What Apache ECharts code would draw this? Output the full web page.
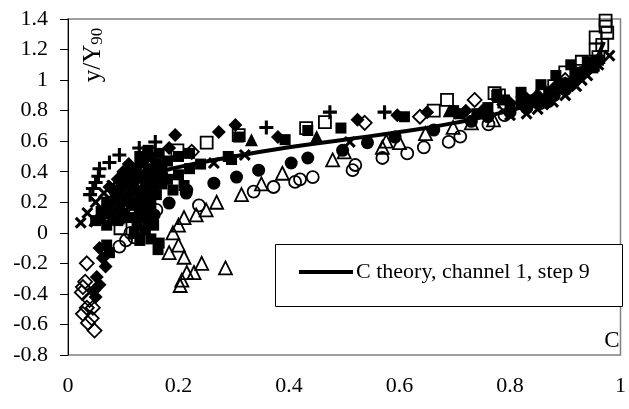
<!DOCTYPE html>
<html>
<head>
<meta charset="utf-8">
<script src="https://cdn.jsdelivr.net/npm/echarts@6/dist/echarts.min.js"></script>
<style>
	html, body { margin: 0; padding: 0; background: #fff; }
	#chart { width: 629px; height: 409px; }
</style>
</head>
<body>
<div id="chart"></div>
<script>
	// theory curve
	var theoryC = [0.04, 0.06, 0.08, 0.1, 0.135, 0.2, 0.3, 0.4, 0.5, 0.6, 0.7, 0.8, 0.85, 0.9, 0.93, 0.95, 0.97];
	var theoryY = [0.04, 0.15, 0.24, 0.3, 0.365, 0.43, 0.5, 0.56, 0.61, 0.66, 0.72, 0.8, 0.86, 0.94, 1.02, 1.1, 1.25];

	// measured points, [C, y/Y90]
	var openDiamond = [[0.034,-0.2],[0.031,-0.32],[0.027,-0.355],[0.025,-0.39],[0.039,-0.44],[0.034,-0.49],[0.045,-0.49],
		[0.027,-0.53],[0.043,-0.56],[0.036,-0.59],[0.048,-0.64],[0.165,0.43],[0.224,0.53],[0.537,0.72],[0.637,0.76],
		[0.736,0.87],[0.79,0.84],[0.86,0.93],[0.9,1.0],[0.1,0.15],[0.12,0.27]];
	var filledDiamond = [[0.057,-0.1],[0.063,-0.165],[0.068,-0.22],[0.052,-0.29],[0.057,-0.34],[0.048,-0.375],[0.05,-0.42],
		[0.194,0.64],[0.183,0.555],[0.273,0.66],[0.303,0.706],[0.38,0.627],[0.524,0.74],[0.596,0.77],[0.65,0.79],
		[0.72,0.8],[0.83,0.88],[0.88,0.95],[0.92,1.02],
		[0.06,0.1],[0.07,0.15],[0.08,0.2],[0.09,0.25],[0.1,0.3],[0.11,0.35],[0.12,0.4],[0.13,0.45],[0.14,0.48],[0.15,0.5],
		[0.08,0.1],[0.09,0.15],[0.1,0.2],[0.11,0.25],[0.12,0.3],[0.125,0.35],[0.1,0.4],[0.11,0.45],[0.09,0.35],[0.075,0.3],
		[0.75,0.8],[0.8,0.85],[0.85,0.9],[0.9,0.98],[0.94,1.06]];
	var filledSquare = [[0.07,-0.08],[0.075,-0.13],[0.12,0.0],[0.13,-0.05],[0.15,-0.04],[0.165,-0.067],[0.163,-0.11],
		[0.155,0.05],[0.14,0.12],[0.15,0.18],[0.16,0.25],[0.17,0.32],[0.15,0.33],[0.18,0.35],[0.2,0.38],[0.22,0.42],
		[0.24,0.45],[0.21,0.31],[0.19,0.28],[0.07,0.05],[0.09,0.08],[0.1,0.13],[0.12,0.18],[0.13,0.22],[0.14,0.28],
		[0.15,0.35],[0.16,0.4],[0.17,0.44],[0.18,0.47],[0.2,0.5],[0.22,0.52],[0.29,0.5],[0.296,0.48],[0.309,0.627],
		[0.393,0.61],[0.434,0.67],[0.494,0.686],[0.609,0.76],[0.698,0.8],[0.776,0.9],[0.79,0.87],[0.82,0.92],
		[0.856,0.97],[0.883,1.03],[0.91,1.1],[0.94,1.12],
		[0.05,0.08],[0.06,0.14],[0.07,0.2],[0.085,0.28],[0.1,0.36],[0.115,0.42],[0.13,0.5],[0.145,0.54],[0.165,0.52],
		[0.13,0.38],[0.14,0.33],[0.11,0.1],[0.115,0.2],[0.13,0.27],[0.145,0.42],[0.16,0.45],[0.125,0.05],[0.14,0.02],
		[0.135,0.16],[0.155,0.28],
		[0.74,0.78],[0.8,0.83],[0.84,0.87],[0.87,0.92],[0.89,0.97],[0.92,1.04],[0.95,1.08],[0.96,1.13],[0.71,0.78],
		[0.76,0.82],[0.82,0.86]];
	var openSquare = [[0.973,1.39],[0.973,1.35],[0.976,1.31],[0.955,1.28],[0.967,1.23],[0.955,1.2],[0.96,1.15],
		[0.198,0.54],[0.251,0.59],[0.309,0.64],[0.431,0.686],[0.465,0.725],[0.662,0.8],[0.686,0.87],[0.772,0.915],
		[0.78,0.9],[0.9,1.05],[0.93,1.12],[0.09,0.1],[0.095,0.03],[0.147,0.52],[0.88,0.96],[0.92,1.06],[0.95,1.1]];
	var filledCircle = [[0.13,0.13],[0.145,0.08],[0.156,0.117],[0.183,0.195],[0.214,0.26],[0.215,0.28],[0.264,0.325],
		[0.305,0.365],[0.345,0.41],[0.404,0.457],[0.434,0.49],[0.497,0.54],[0.542,0.59],[0.592,0.627],[0.662,0.673],
		[0.73,0.73],[0.8,0.79],[0.83,0.82],[0.87,0.86],[0.9,0.95],[0.93,1.05],
		[0.14,0.2],[0.15,0.25],[0.125,0.1],[0.16,0.35],[0.17,0.38],[0.76,0.76],[0.85,0.85],[0.88,0.9],[0.91,0.97],
		[0.95,1.1]];
	var openCircle = [[0.093,-0.09],[0.105,-0.05],[0.113,0.0],[0.12,-0.03],[0.16,0.15],[0.237,0.18],[0.336,0.27],
		[0.372,0.3],[0.411,0.333],[0.42,0.35],[0.443,0.365],[0.52,0.444],[0.515,0.41],[0.569,0.49],[0.614,0.52],
		[0.644,0.56],[0.689,0.595],[0.71,0.63],[0.761,0.71],[0.79,0.77],[0.83,0.82],[0.855,0.85],[0.9,0.94]];
	var openTriangle = [[0.203,-0.345],[0.206,-0.31],[0.215,-0.26],[0.228,-0.26],[0.242,-0.2],[0.21,-0.16],
		[0.285,-0.23],[0.183,-0.13],[0.2,-0.08],[0.19,0.0],[0.2,0.05],[0.21,0.1],[0.232,0.117],
		[0.25,0.15],[0.269,0.2],[0.314,0.25],[0.35,0.32],[0.388,0.39],[0.479,0.477],[0.5,0.53],[0.569,0.56],
		[0.576,0.6],[0.6,0.59],[0.647,0.65],[0.697,0.69],[0.73,0.72],[0.77,0.74]];
	var filledTriangle = [[0.332,0.61],[0.45,0.63],[0.69,0.8]];
	var plusPts = [[0.04,0.25],[0.045,0.29],[0.05,0.33],[0.055,0.37],[0.057,0.42],[0.075,0.46],[0.093,0.51],
		[0.129,0.555],[0.158,0.595],[0.359,0.69],[0.474,0.79],[0.573,0.79],[0.7,0.79],[0.78,0.86]];
	var crossPts = [[0.023,0.066],[0.035,0.13],[0.05,0.2],[0.065,0.26],[0.08,0.31],[0.264,0.457],[0.32,0.51],
		[0.51,0.595],[0.83,0.78],[0.85,0.81],[0.878,0.857],[0.9,0.9],[0.93,1.0],[0.96,1.1],[0.98,1.16],
		[0.8,0.77],[0.86,0.84],[0.92,0.96],[0.94,1.03]];

	var yTicks = [-0.8, -0.6, -0.4, -0.2, 0, 0.2, 0.4, 0.6, 0.8, 1, 1.2, 1.4];
	var xTicks = [0, 0.2, 0.4, 0.6, 0.8, 1];

	var font = 'Liberation Serif';
	var clear = 'rgba(0,0,0,0)';
	var plusPath = 'path://M3.9,0H6.1V3.9H10V6.1H6.1V10H3.9V6.1H0V3.9H3.9Z';

	function pts(name, data, symbol, size, open, rotate) {
		return {
			name: name,
			type: 'scatter',
			data: data,
			symbol: symbol,
			symbolSize: size,
			symbolRotate: rotate || 0,
			itemStyle: open
				? { color: clear, borderColor: '#000', borderWidth: 1.8, opacity: 1 }
				: { color: '#000', opacity: 1 },
			emphasis: { disabled: true },
			z: 2
		};
	}

	var theoryData = theoryC.map(function (c, i) { return [c, theoryY[i]]; });

	var chart = echarts.init(document.getElementById('chart'));
	chart.setOption({
		animation: false,
		grid: {
			left: 68, right: 4, top: 19, bottom: 54,
			show: true, borderColor: '#808080', borderWidth: 1.5
		},
		xAxis: {
			type: 'value', min: xTicks[0], max: xTicks[xTicks.length - 1], interval: 0.2,
			axisLine: { show: false },
			axisTick: { show: false },
			splitLine: { show: false },
			axisLabel: {
				margin: 20, color: '#000', fontSize: 22, fontFamily: font,
				formatter: function (v) { return String(+v.toFixed(1)); }
			}
		},
		yAxis: {
			type: 'value', min: yTicks[0], max: yTicks[yTicks.length - 1], interval: 0.2,
			axisLine: { show: true, lineStyle: { color: '#000', width: 1 } },
			axisTick: { show: true, length: 8, lineStyle: { color: '#000' } },
			splitLine: { show: false },
			axisLabel: {
				margin: 20, color: '#000', fontSize: 22, fontFamily: font,
				formatter: function (v) { return String(+v.toFixed(1)); }
			}
		},
		legend: {
			data: [{ name: 'C theory, channel 1, step 9', icon: 'rect' }],
			left: 299, top: 261,
			padding: 0,
			itemWidth: 54, itemHeight: 4, itemGap: 0,
			textStyle: { fontSize: 22, fontFamily: font, color: '#000', padding: [0, 0, 0, -2] },
			z: 6
		},
		graphic: [
			{
				type: 'rect', z: 5,
				shape: { x: 275.5, y: 244.5, width: 347, height: 62 },
				style: { fill: '#fff', stroke: '#000', lineWidth: 1 }
			},
			{
				type: 'text', x: 93, y: 55, rotation: Math.PI / 2, z: 6,
				style: {
					text: '{a|y/Y}{b|90}',
					align: 'center', verticalAlign: 'middle',
					rich: {
						a: { fontSize: 25, fontFamily: font, fill: '#000' },
						b: { fontSize: 17, fontFamily: font, fill: '#000', padding: [10, 0, 0, 0] }
					}
				}
			},
			{
				type: 'text', x: 612, y: 341, z: 6,
				style: {
					text: 'C', fontSize: 23, fontFamily: font, fill: '#000',
					align: 'center', verticalAlign: 'middle'
				}
			}
		],
		series: [
			pts('odia', openDiamond, 'diamond', 14, true),
			pts('otri', openTriangle, 'triangle', 13, true),
			pts('ocir', openCircle, 'circle', 12, true),
			pts('osq', openSquare, 'rect', 12, true),
			pts('fcir', filledCircle, 'circle', 13, false),
			pts('fsq', filledSquare, 'rect', 11, false),
			pts('fdia', filledDiamond, 'diamond', 14, false),
			pts('ftri', filledTriangle, 'triangle', 13, false),
			pts('plus', plusPts, plusPath, 14, false),
			pts('cross', crossPts, plusPath, 14, false, 45),
			{
				name: 'C theory, channel 1, step 9',
				type: 'line',
				data: theoryData,
				smooth: true,
				symbol: 'none',
				lineStyle: { color: '#000', width: 4 },
				itemStyle: { color: '#000' },
				emphasis: { disabled: true },
				z: 3
			}
		]
	});
</script>
</body>
</html>
